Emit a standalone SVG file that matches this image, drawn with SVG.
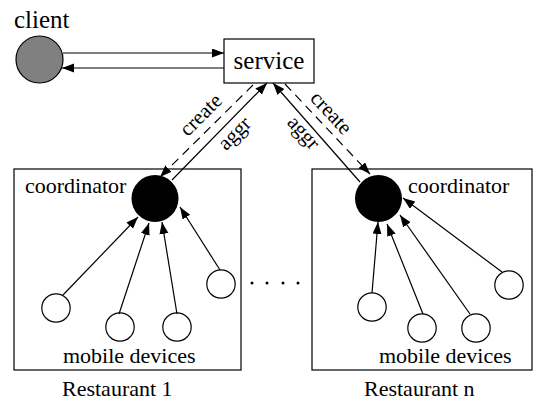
<svg xmlns="http://www.w3.org/2000/svg" width="534" height="403" viewBox="0 0 534 403">
<defs>
<marker id="ah" markerUnits="userSpaceOnUse" markerWidth="13" markerHeight="10" refX="12" refY="4.5" orient="auto">
<path d="M0,0 L12,4.5 L0,9 z" fill="#000"/>
</marker>
</defs>
<style>
text{fill:#000}
.big{font-size:25px}
.lbl{font-size:22px}
.edge{font-size:21px}
.ln{stroke:#000;stroke-width:1.2;fill:none}
.arr{marker-end:url(#ah)}
.dash{stroke-dasharray:9,6}
.box{fill:#fff;stroke:#000;stroke-width:1.2}
.dev{fill:#fff;stroke:#000;stroke-width:1.2}
</style>
<rect width="534" height="403" fill="#fff"/>
<g id="restaurant1">
<rect class="box" x="14" y="169" width="227" height="201"/>
<text class="lbl" font-family="Liberation Serif, Times New Roman, serif" x="63" y="363">mobile devices</text>
<text class="lbl" font-family="Liberation Serif, Times New Roman, serif" x="62" y="396">Restaurant 1</text>
</g>
<g id="restaurantn">
<rect class="box" x="312" y="169" width="220" height="201"/>
<text class="lbl" font-family="Liberation Serif, Times New Roman, serif" x="379" y="363">mobile devices</text>
<text class="lbl" font-family="Liberation Serif, Times New Roman, serif" x="364" y="396">Restaurant n</text>
</g>
<g id="client">
<circle cx="39.5" cy="59.5" r="23.5" fill="#808080" stroke="#000" stroke-width="1.2"/>
<text class="big" font-family="Liberation Serif, Times New Roman, serif" x="14" y="28">client</text>
</g>
<g id="service">
<rect class="box" x="224" y="39" width="90" height="44"/>
<text class="big" font-family="Liberation Serif, Times New Roman, serif" x="269" y="69" text-anchor="middle">service</text>
</g>
<g id="coordinator1">
<circle cx="155" cy="198.5" r="23.5" fill="#000"/>
<text class="lbl" font-family="Liberation Serif, Times New Roman, serif" x="25" y="193">coordinator</text>
</g>
<g id="coordinatorn">
<circle cx="378.5" cy="198.5" r="23.5" fill="#000"/>
<text class="lbl" font-family="Liberation Serif, Times New Roman, serif" x="408" y="193">coordinator</text>
</g>
<g id="devices1">
<circle class="dev" cx="56" cy="308" r="14.2"/>
<circle class="dev" cx="120" cy="327" r="14.2"/>
<circle class="dev" cx="177" cy="327" r="14.2"/>
<circle class="dev" cx="221" cy="284" r="14.2"/>
</g>
<g id="devicesn">
<circle class="dev" cx="372" cy="307" r="14.2"/>
<circle class="dev" cx="422" cy="328" r="14.2"/>
<circle class="dev" cx="476" cy="328" r="14.2"/>
<circle class="dev" cx="509" cy="285" r="14.2"/>
</g>
<g id="ellipsis">
<circle cx="252" cy="283" r="1.5" fill="#000"/>
<circle cx="267" cy="283" r="1.5" fill="#000"/>
<circle cx="283" cy="283" r="1.5" fill="#000"/>
<circle cx="298" cy="283" r="1.5" fill="#000"/>
</g>
<g id="connectors">
<line class="ln arr" x1="63" y1="53" x2="224" y2="53"/>
<line class="ln arr" x1="224" y1="68" x2="62" y2="68"/>
<line class="ln arr" x1="172" y1="180" x2="267" y2="83"/>
<line class="ln arr dash" x1="253" y1="85" x2="160" y2="177"/>
<line class="ln arr" x1="360" y1="182" x2="273" y2="83"/>
<line class="ln arr dash" x1="285" y1="84" x2="370" y2="174"/>
<line class="ln arr" x1="63" y1="295" x2="138" y2="217"/>
<line class="ln arr" x1="119" y1="314" x2="149" y2="223"/>
<line class="ln arr" x1="177" y1="314" x2="162" y2="222"/>
<line class="ln arr" x1="220" y1="270" x2="180" y2="207"/>
<line class="ln arr" x1="372" y1="293" x2="378" y2="222"/>
<line class="ln arr" x1="423" y1="314" x2="387" y2="224"/>
<line class="ln arr" x1="470" y1="314" x2="400" y2="215"/>
<line class="ln arr" x1="502" y1="272" x2="403" y2="198"/>
<text class="edge" font-family="Liberation Serif, Times New Roman, serif" transform="translate(202,116) rotate(-45)" x="0" y="5" text-anchor="middle">create</text>
<text class="edge" font-family="Liberation Serif, Times New Roman, serif" transform="translate(237,136) rotate(-45)" x="0" y="3" text-anchor="middle">aggr</text>
<text class="edge" font-family="Liberation Serif, Times New Roman, serif" transform="translate(330,114) rotate(47)" x="0" y="5" text-anchor="middle">create</text>
<text class="edge" font-family="Liberation Serif, Times New Roman, serif" transform="translate(301,135) rotate(48)" x="0" y="3" text-anchor="middle">aggr</text>
</g>
</svg>
